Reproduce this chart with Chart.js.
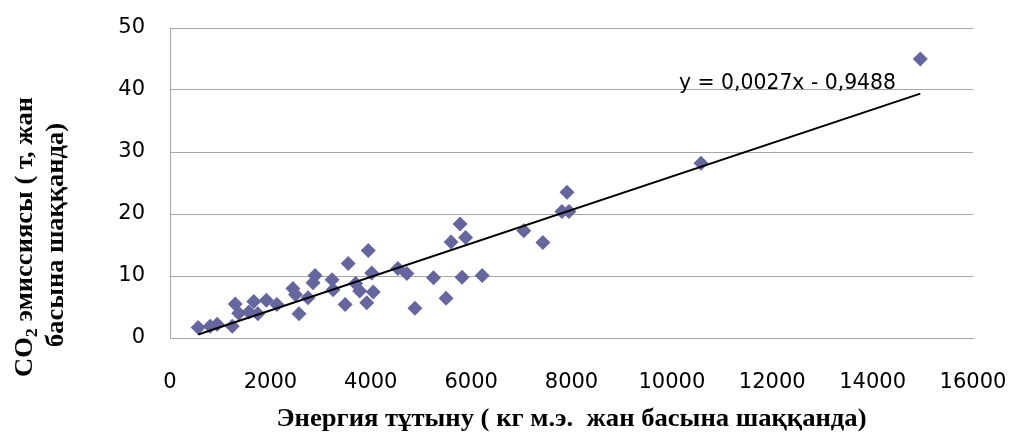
<!DOCTYPE html>
<html>
<head>
<meta charset="utf-8">
<script src="https://cdn.jsdelivr.net/npm/chart.js@4/dist/chart.umd.min.js"></script>
<style>
  html, body { margin: 0; padding: 0; background: #fff; }
  #wrap { width: 1009px; height: 446px; }
</style>
</head>
<body>
<div id="wrap"><canvas id="co2Chart" width="1009" height="446"></canvas></div>
<script>
// Energy use per capita (kg o.e.) vs CO2 emissions per capita (t)
const energyUse = [560, 800, 940, 1240, 1300, 1370, 1570, 1670, 1750, 1920, 2130, 2450, 2500, 2570, 2750,
    2850, 2890, 3230, 3250, 3490, 3550, 3700, 3780, 3920, 3950, 4020, 4050, 4540, 4720, 4880, 5250,
    5500, 5600, 5780, 5820, 5890, 6220, 7050, 7430, 7810, 7910, 7950, 10580, 14950];
const co2Emission = [1.7, 1.9, 2.2, 1.9, 5.5, 4.0, 4.2, 5.9, 3.9, 6.1, 5.4, 8.0, 7.0, 3.9, 6.5,
    8.9, 10.1, 9.4, 7.8, 5.4, 12.0, 8.8, 7.6, 5.7, 14.1, 10.5, 7.4, 11.2, 10.4, 4.8, 9.7,
    6.4, 15.5, 18.4, 9.8, 16.2, 10.1, 17.3, 15.4, 20.4, 23.5, 20.4, 28.2, 45.0];
const xTicks = [0, 2000, 4000, 6000, 8000, 10000, 12000, 14000, 16000];
const yTicks = [0, 10, 20, 30, 40, 50];

// linear trend as printed on the chart
const trendSlope = 0.0027;
const trendIntercept = -0.9488;
const trendLabel = 'y = 0,0027x - 0,9488';

const xTitle = 'Энергия тұтыну ( кг м.э.  жан басына шаққанда)';
const yTitleLine1 = ['CO', '2', ' эмиссиясы ( т, жан'];
const yTitleLine2 = 'басына шаққанда)';

const points = energyUse.map((x, i) => ({ x: x, y: co2Emission[i] }));
const minX = Math.min(...energyUse);
const maxX = Math.max(...energyUse);
const trendPoints = [minX, maxX].map(x => ({ x: x, y: trendSlope * x + trendIntercept }));

const serif = '"Liberation Serif", "Times New Roman", serif';
const sans = '"DejaVu Sans", sans-serif';

// draws the axis titles and the trend equation
const labelsPlugin = {
    id: 'labels',
    afterDraw(chart) {
        const ctx = chart.ctx;
        const area = chart.chartArea;
        ctx.save();
        ctx.fillStyle = '#000';

        // x title
        ctx.font = 'bold 22px ' + serif;
        const xw = ctx.measureText(xTitle).width;
        ctx.save();
        ctx.translate((area.left + area.right) / 2, 426);
        ctx.scale(590 / xw, 1.1);
        ctx.textAlign = 'center';
        ctx.textBaseline = 'alphabetic';
        ctx.fillText(xTitle, 0, 0);
        ctx.restore();

        // y title, two rotated lines
        const big = 'bold 22px ' + serif;
        const small = 'bold 15px ' + serif;
        const perp = 1.15;
        ctx.font = big;
        const w1a = ctx.measureText(yTitleLine1[0]).width;
        const w1c = ctx.measureText(yTitleLine1[2]).width;
        ctx.font = small;
        const w1b = ctx.measureText(yTitleLine1[1]).width;
        const w1 = w1a + w1b + w1c;
        ctx.save();
        ctx.translate(32, 237);
        ctx.rotate(-Math.PI / 2);
        ctx.scale(280 / w1, perp);
        ctx.textAlign = 'left';
        ctx.textBaseline = 'alphabetic';
        let pos = -w1 / 2;
        ctx.font = big;
        ctx.fillText(yTitleLine1[0], pos, 0);
        pos += w1a;
        ctx.font = small;
        ctx.fillText(yTitleLine1[1], pos, 4);
        pos += w1b;
        ctx.font = big;
        ctx.fillText(yTitleLine1[2], pos, 0);
        ctx.restore();

        ctx.save();
        ctx.font = big;
        const w2 = ctx.measureText(yTitleLine2).width;
        ctx.translate(63, 235);
        ctx.rotate(-Math.PI / 2);
        ctx.scale(224 / w2, perp);
        ctx.textAlign = 'center';
        ctx.textBaseline = 'alphabetic';
        ctx.fillText(yTitleLine2, 0, 0);
        ctx.restore();

        // trend equation
        ctx.font = '21px ' + sans;
        const ew = ctx.measureText(trendLabel).width;
        ctx.save();
        ctx.translate(679, 89);
        ctx.scale(217 / ew, 1);
        ctx.textAlign = 'left';
        ctx.textBaseline = 'alphabetic';
        ctx.fillText(trendLabel, 0, 0);
        ctx.restore();

        ctx.restore();
    }
};

// keep tick label overflow from shrinking the plot area
function noEdgePadding(s) {
    s.paddingTop = 0;
    s.paddingBottom = 0;
    s.paddingLeft = 0;
    s.paddingRight = 0;
}

const ctx = document.getElementById('co2Chart');
new Chart(ctx, {
    type: 'scatter',
    data: {
        datasets: [{
            label: 'CO2',
            data: points,
            pointStyle: 'rectRot',
            pointRadius: 7.5,
            pointHoverRadius: 7.5,
            backgroundColor: '#66669f',
            borderColor: '#66669f',
            borderWidth: 0,
            order: 1
        }, {
            type: 'line',
            label: 'trend',
            data: trendPoints,
            borderColor: '#000',
            borderWidth: 2,
            pointRadius: 0,
            fill: false,
            order: 0
        }]
    },
    options: {
        responsive: false,
        animation: false,
        events: [],
        layout: { padding: { top: 28, right: 36, left: 0, bottom: 0 } },
        plugins: {
            legend: { display: false },
            tooltip: { enabled: false },
            title: { display: false }
        },
        scales: {
            x: {
                type: 'linear',
                min: xTicks[0],
                max: xTicks[xTicks.length - 1],
                afterBuildTicks: s => { s.ticks = xTicks.map(v => ({ value: v })); },
                afterFit: s => { s.height = 108; noEdgePadding(s); },
                grid: { display: false, drawTicks: false },
                border: { display: true, color: '#a6a6a6', width: 1 },
                ticks: {
                    padding: 32,
                    maxRotation: 0,
                    autoSkip: false,
                    color: '#000',
                    font: { family: sans, size: 21 },
                    callback: v => String(v)
                }
            },
            y: {
                type: 'linear',
                min: yTicks[0],
                max: yTicks[yTicks.length - 1],
                afterBuildTicks: s => { s.ticks = yTicks.map(v => ({ value: v })); },
                afterFit: s => { s.width = 170; noEdgePadding(s); },
                grid: { color: '#a6a6a6', lineWidth: 1, drawTicks: false },
                border: { display: true, color: '#a6a6a6', width: 1 },
                ticks: {
                    padding: 25,
                    color: '#000',
                    font: { family: sans, size: 21 },
                    callback: v => String(v)
                }
            }
        }
    },
    plugins: [labelsPlugin]
});
</script>
</body>
</html>
